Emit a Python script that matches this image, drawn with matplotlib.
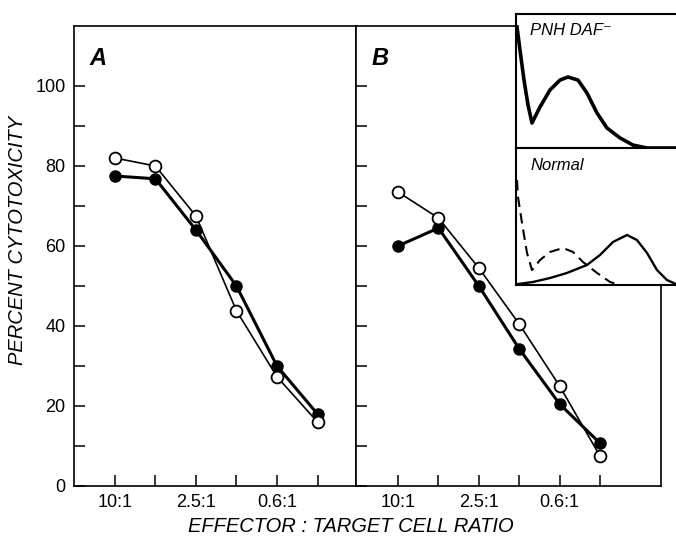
import matplotlib
matplotlib.use("Agg")
import matplotlib.pyplot as plt

plt.rcParams['font.family'] = ['Liberation Sans', 'DejaVu Sans']

# ---- data ----
x_pos = [1, 2, 3, 4, 5, 6]
tick_positions = [1, 2, 3, 4, 5, 6]
tick_labels = ["10:1", "", "2.5:1", "", "0.6:1", ""]
y_ticks = [0, 10, 20, 30, 40, 50, 60, 70, 80, 90, 100]
y_ticklabels = ["0", "", "20", "", "40", "", "60", "", "80", "", "100"]

a_open = [82, 80, 67.5, 43.8, 27.3, 16]
a_filled = [77.5, 76.8, 64, 50, 30, 18]
b_open = [73.5, 67, 54.5, 40.5, 25, 7.5]
b_filled = [60, 64.5, 50, 34.3, 20.5, 10.7]

# inset histograms (channel, relative count)
pnh_x = [1, 4, 8, 12, 16, 24, 34, 44, 52, 62, 71, 81, 91, 104, 117, 131, 160, 180]
pnh_y = [90.3, 73.1, 50.7, 32.1, 18.7, 30.6, 43.3, 50.7, 53.0, 50.7, 41.0, 26.1, 14.9, 7.5, 2.2, 0, 0, 0]
norm_dash_x = [1, 2, 6, 11, 16, 24, 34, 47, 57, 67, 81, 94, 104]
norm_dash_y = [76.6, 64.2, 45.3, 23.4, 10.9, 18.2, 24.1, 27.0, 24.1, 16.8, 8.8, 2.2, 0]
norm_solid_x = [2, 17, 34, 51, 71, 84, 97, 111, 121, 131, 141, 151, 160, 180]
norm_solid_y = [0.7, 2.2, 5.1, 8.8, 14.6, 21.9, 31.4, 36.5, 32.8, 23.4, 10.9, 3.6, 0.7, 0]

W, H = 676, 536
fig = plt.figure(figsize=(W / 100, H / 100), dpi=100)

def px_axes(x0, y0, x1, y1):
    return fig.add_axes([x0 / W, 1 - y1 / H, (x1 - x0) / W, (y1 - y0) / H])

axA = px_axes(74, 26, 356, 486)
axB = px_axes(356, 26, 661, 486)

for ax, op, fi, xl in [(axA, a_open, a_filled, (-0.01, 6.95)),
                       (axB, b_open, b_filled, (-0.04, 7.51))]:
    ax.plot(x_pos, fi, color='black', lw=2.2, marker='o', ms=8,
            mfc='black', mec='black', zorder=3)
    ax.plot(x_pos, op, color='black', lw=1.2, marker='o', ms=8.5,
            mfc='white', mec='black', mew=1.3, zorder=4)
    ax.set_xlim(*xl)
    ax.set_ylim(0, 115)
    ax.set_xticks(tick_positions)
    ax.set_xticklabels(tick_labels)
    ax.set_yticks(y_ticks)
    ax.tick_params(direction='in', length=8, width=1.1, labelsize=13, pad=6)
    for s in ax.spines.values():
        s.set_linewidth(1.2)

axA.set_yticklabels(y_ticklabels)
axB.set_yticklabels([])
axA.set_ylabel("PERCENT CYTOTOXICITY", fontsize=14.5, style='italic')
axA.yaxis.set_label_coords(-0.165, 0.533)

axA.text(0.055, 0.955, "A", transform=axA.transAxes, fontsize=17,
         style='italic', fontweight='bold', va='top', ha='left')
axB.text(0.05, 0.955, "B", transform=axB.transAxes, fontsize=17,
         style='italic', fontweight='bold', va='top', ha='left')

fig.text(351 / W, 1 - 526 / H, "EFFECTOR : TARGET CELL RATIO", fontsize=14.5,
         style='italic', ha='center', va='center')

# insets
in1 = px_axes(516, 14, 696, 148)
in2 = px_axes(516, 148, 696, 285)
for ax in (in1, in2):
    ax.set_facecolor('white')
    ax.set_xlim(0, 180)
    ax.set_ylim(0, 100)
    ax.set_xticks([])
    ax.set_yticks([])
    for s in ax.spines.values():
        s.set_linewidth(1.5)
    ax.set_zorder(5)

in1.plot(pnh_x, pnh_y, color='black', lw=2.6, solid_joinstyle='round')
in1.text(14, 93, "PNH DAF\u207b", fontsize=12, style='italic', va='top', ha='left')

in2.plot(norm_dash_x, norm_dash_y, color='black', lw=1.5, ls=(0, (5, 3)))
in2.plot(norm_solid_x, norm_solid_y, color='black', lw=1.7, solid_joinstyle='round')
in2.text(14, 93, "Normal", fontsize=12, style='italic', va='top', ha='left')

fig.savefig("out.png", dpi=100)
